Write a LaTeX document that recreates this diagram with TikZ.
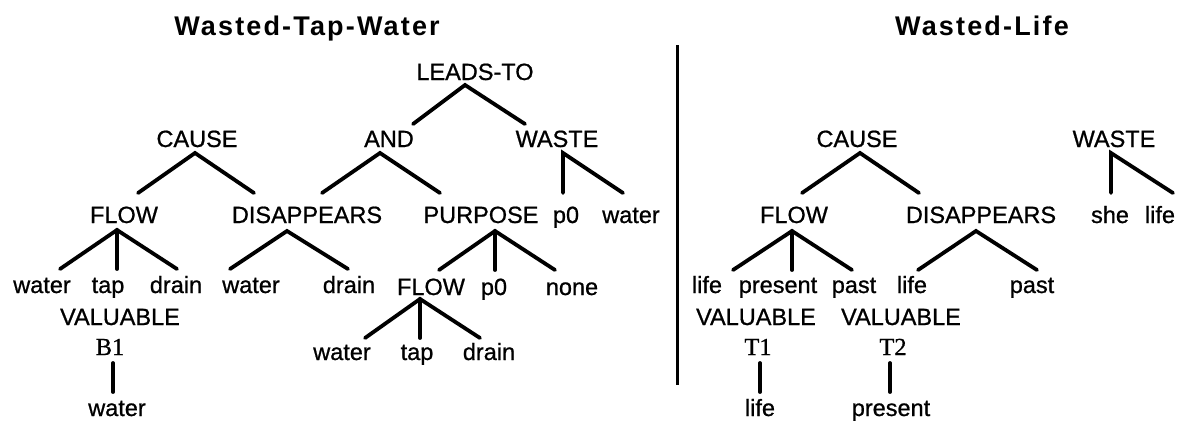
\documentclass[tikz,border=0pt]{standalone}
\usepackage{fontspec}
\setmainfont{Liberation Sans}[FakeBold=0.8]
\newfontfamily\serifface{Liberation Serif}[FakeBold=0.6]
\newfontfamily\titleface{Liberation Sans Bold}[LetterSpace=8]
\begin{document}
\begin{tikzpicture}[x=1pt,y=-1pt,
  lbl/.style={inner sep=0pt, anchor=base, font=\fontsize{23.5}{28}\selectfont},
  serlbl/.style={inner sep=0pt, anchor=base, font=\fontsize{24.5}{28}\selectfont\serifface},
  ttl/.style={inner sep=0pt, anchor=base, font=\fontsize{27}{32}\selectfont\titleface},
  branch/.style={line width=3.8pt, line cap=round},
  divider/.style={line width=3pt}]
\useasboundingbox[fill=white] (0,0) rectangle (1200,421);

% ---------------- titles ----------------
\node[ttl] (t1) at (307,35) {Wasted-Tap-Water};
\node[ttl] (t2) at (982,35) {Wasted-Life};

% ---------------- divider ----------------
\coordinate (dtop) at (677,45);
\coordinate (dbot) at (677,385);
\draw[divider] (dtop) -- (dbot);

% ================= Wasted-Tap-Water =================
\node[lbl] (leads) at (475,80) {LEADS-TO};
\node[lbl] (causeL) at (197,147) {CAUSE};
\node[lbl] (and) at (389,147) {AND};
\node[lbl] (wasteL) at (557,147) {WASTE};

\node[lbl] (flowL) at (124,223) {FLOW};
\node[lbl] (disL) at (307,223) {DISAPPEARS};
\node[lbl] (purp) at (481,223) {PURPOSE};
\node[lbl] (wp0) at (566,223) {p0};
\node[lbl] (wwater) at (631,223) {water};

\node[lbl] (fw) at (42,293) {water};
\node[lbl] (ft) at (108,293) {tap};
\node[lbl] (fd) at (176,293) {drain};
\node[lbl] (dw) at (251,293) {water};
\node[lbl] (dd) at (349,293) {drain};
\node[lbl] (flowM) at (431,295) {FLOW};
\node[lbl] (pp0) at (494,295) {p0};
\node[lbl] (pnone) at (572,295) {none};

\node[lbl] (mw) at (342,360) {water};
\node[lbl] (mt) at (417,360) {tap};
\node[lbl] (md) at (489,360) {drain};

\node[lbl] (valL) at (120,325) {VALUABLE};
\node[serlbl] (b1) at (110,355) {B1};
\node[lbl] (vwater) at (117,416) {water};

% connectors (left)
\coordinate (leads-a) at (465,85);
\coordinate (leads-l) at (413,124);
\coordinate (leads-r) at (525,124);
\draw[branch] (leads-l) -- (leads-a) -- (leads-r);

\coordinate (causeL-a) at (195,153);
\coordinate (causeL-l) at (138,193);
\coordinate (causeL-r) at (254,193);
\draw[branch] (causeL-l) -- (causeL-a) -- (causeL-r);

\coordinate (and-a) at (380,153);
\coordinate (and-l) at (322,193);
\coordinate (and-r) at (440,193);
\draw[branch] (and-l) -- (and-a) -- (and-r);

\coordinate (wasteL-a) at (563,153);
\coordinate (wasteL-m) at (563,193);
\coordinate (wasteL-r) at (623,193);
\draw[branch] (wasteL-m) -- (wasteL-a) -- (wasteL-r);

\coordinate (flowL-a) at (117,230);
\coordinate (flowL-l) at (60,269);
\coordinate (flowL-m) at (117,269);
\coordinate (flowL-r) at (177,269);
\draw[branch] (flowL-l) -- (flowL-a) -- (flowL-r);
\draw[branch] (flowL-a) -- (flowL-m);

\coordinate (disL-a) at (287,231);
\coordinate (disL-l) at (230,269);
\coordinate (disL-r) at (348,269);
\draw[branch] (disL-l) -- (disL-a) -- (disL-r);

\coordinate (purp-a) at (495,231);
\coordinate (purp-l) at (439,270);
\coordinate (purp-m) at (495,270);
\coordinate (purp-r) at (555,270);
\draw[branch] (purp-l) -- (purp-a) -- (purp-r);
\draw[branch] (purp-a) -- (purp-m);

\coordinate (flowM-a) at (420,299);
\coordinate (flowM-l) at (365,338);
\coordinate (flowM-m) at (420,338);
\coordinate (flowM-r) at (480,338);
\draw[branch] (flowM-l) -- (flowM-a) -- (flowM-r);
\draw[branch] (flowM-a) -- (flowM-m);

\coordinate (b1-t) at (113,363);
\coordinate (b1-b) at (113,392);
\draw[branch] (b1-t) -- (b1-b);

% ================= Wasted-Life =================
\node[lbl] (causeR) at (857,147) {CAUSE};
\node[lbl] (wasteR) at (1114,147) {WASTE};

\node[lbl] (flowR) at (794,223) {FLOW};
\node[lbl] (disR) at (981,223) {DISAPPEARS};
\node[lbl] (she) at (1110,223) {she};
\node[lbl] (slife) at (1160,223) {life};

\node[lbl] (rl1) at (707,293) {life};
\node[lbl] (rpres) at (778,293) {present};
\node[lbl] (rpast1) at (854,293) {past};
\node[lbl] (rl2) at (912,293) {life};
\node[lbl] (rpast2) at (1032,293) {past};

\node[lbl] (valR1) at (756,325) {VALUABLE};
\node[lbl] (valR2) at (901,325) {VALUABLE};
\node[serlbl] (t1n) at (758,355) {T1};
\node[serlbl] (t2n) at (893,355) {T2};
\node[lbl] (blife) at (760,416) {life};
\node[lbl] (bpres) at (891,416) {present};

\coordinate (causeR-a) at (860,153);
\coordinate (causeR-l) at (802,193);
\coordinate (causeR-r) at (919,193);
\draw[branch] (causeR-l) -- (causeR-a) -- (causeR-r);

\coordinate (wasteR-a) at (1111,153);
\coordinate (wasteR-m) at (1111,193);
\coordinate (wasteR-r) at (1173,193);
\draw[branch] (wasteR-m) -- (wasteR-a) -- (wasteR-r);

\coordinate (flowR-a) at (792,231);
\coordinate (flowR-l) at (733,270);
\coordinate (flowR-m) at (792,270);
\coordinate (flowR-r) at (852,270);
\draw[branch] (flowR-l) -- (flowR-a) -- (flowR-r);
\draw[branch] (flowR-a) -- (flowR-m);

\coordinate (disR-a) at (976,231);
\coordinate (disR-l) at (918,270);
\coordinate (disR-r) at (1037,270);
\draw[branch] (disR-l) -- (disR-a) -- (disR-r);

\coordinate (t1-t) at (760,363);
\coordinate (t1-b) at (760,392);
\draw[branch] (t1-t) -- (t1-b);
\coordinate (t2-t) at (890,363);
\coordinate (t2-b) at (890,392);
\draw[branch] (t2-t) -- (t2-b);
\end{tikzpicture}
\end{document}
